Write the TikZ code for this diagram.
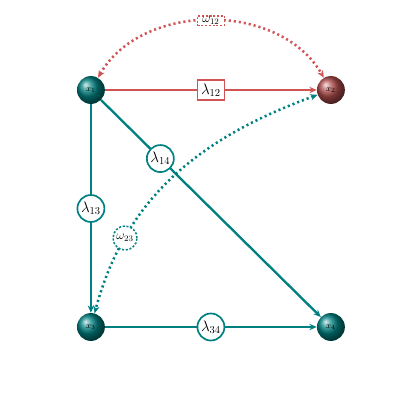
\documentclass[tikz,border=0pt]{standalone}
\usepackage{amsmath,amssymb}
\usepackage{tikz}
\usetikzlibrary{arrows.meta, positioning, shapes.geometric, calc}
\usepackage{xcolor}
\definecolor{netteal}{RGB}{0,128,128}
\definecolor{netred}{RGB}{208,84,84}
\definecolor{ballred}{RGB}{175,75,75}

\begin{document}
\begin{tikzpicture}[
    >={Stealth[length=7pt,width=6pt]},
    state/.style={circle, shading=ball, ball color=netteal, minimum size=0.93cm, inner sep=0, font=\footnotesize, text=black},
    redstate/.style={state, ball color=ballred},
    rate/.style={line width=2.2pt, draw=netteal, ->},
    redrate/.style={line width=2.2pt, draw=netred, ->},
    corr/.style={line width=2.4pt, dash pattern=on 2pt off 2.8pt, <->},
    lab/.style={circle, draw=netteal, line width=1.6pt, fill=white, minimum size=0.9cm, inner sep=0, font=\Large, text=black},
    redlab/.style={rectangle, draw=netred, line width=1.6pt, fill=white, minimum width=0.9cm, minimum height=0.68cm, inner sep=1pt, font=\Large, text=black},
    dashlab/.style={line width=1.4pt, dash pattern=on 2pt off 1.6pt, fill=white, font=\large, text=black},
]
    \useasboundingbox (0,0) rectangle (14,14);

    % States
    \node[state] (x1) at (3.03, 11.0) {$x_1$};
    \node[redstate] (x2) at (11.03, 11.0) {$x_2$};
    \node[state] (x3) at (3.03, 3.1) {$x_3$};
    \node[state] (x4) at (11.03, 3.1) {$x_4$};

    % Rates
    \draw[redrate] (x1) -- node[redlab] {$\lambda_{12}$} (x2);
    \draw[rate] (x1) -- node[lab, pos=0.5] {$\lambda_{13}$} (x3);
    \draw[rate] (x1) -- node[lab, pos=0.27] {$\lambda_{14}$} (x4);
    \draw[rate] (x3) -- node[lab] {$\lambda_{34}$} (x4);

    % Correlations
    \draw[corr, netred] (x1) to[out=60, in=120, looseness=1.0]
        node[dashlab, rectangle, draw=netred, inner sep=1pt, minimum width=0.9cm, pos=0.5] {$\omega_{12}$} (x2);
    \draw[corr, netteal] (x2) to[out=200, in=75]
        node[dashlab, circle, draw=netteal, inner sep=0, minimum size=0.8cm, pos=0.76] {$\omega_{23}$} (x3);

\end{tikzpicture}
\end{document}
